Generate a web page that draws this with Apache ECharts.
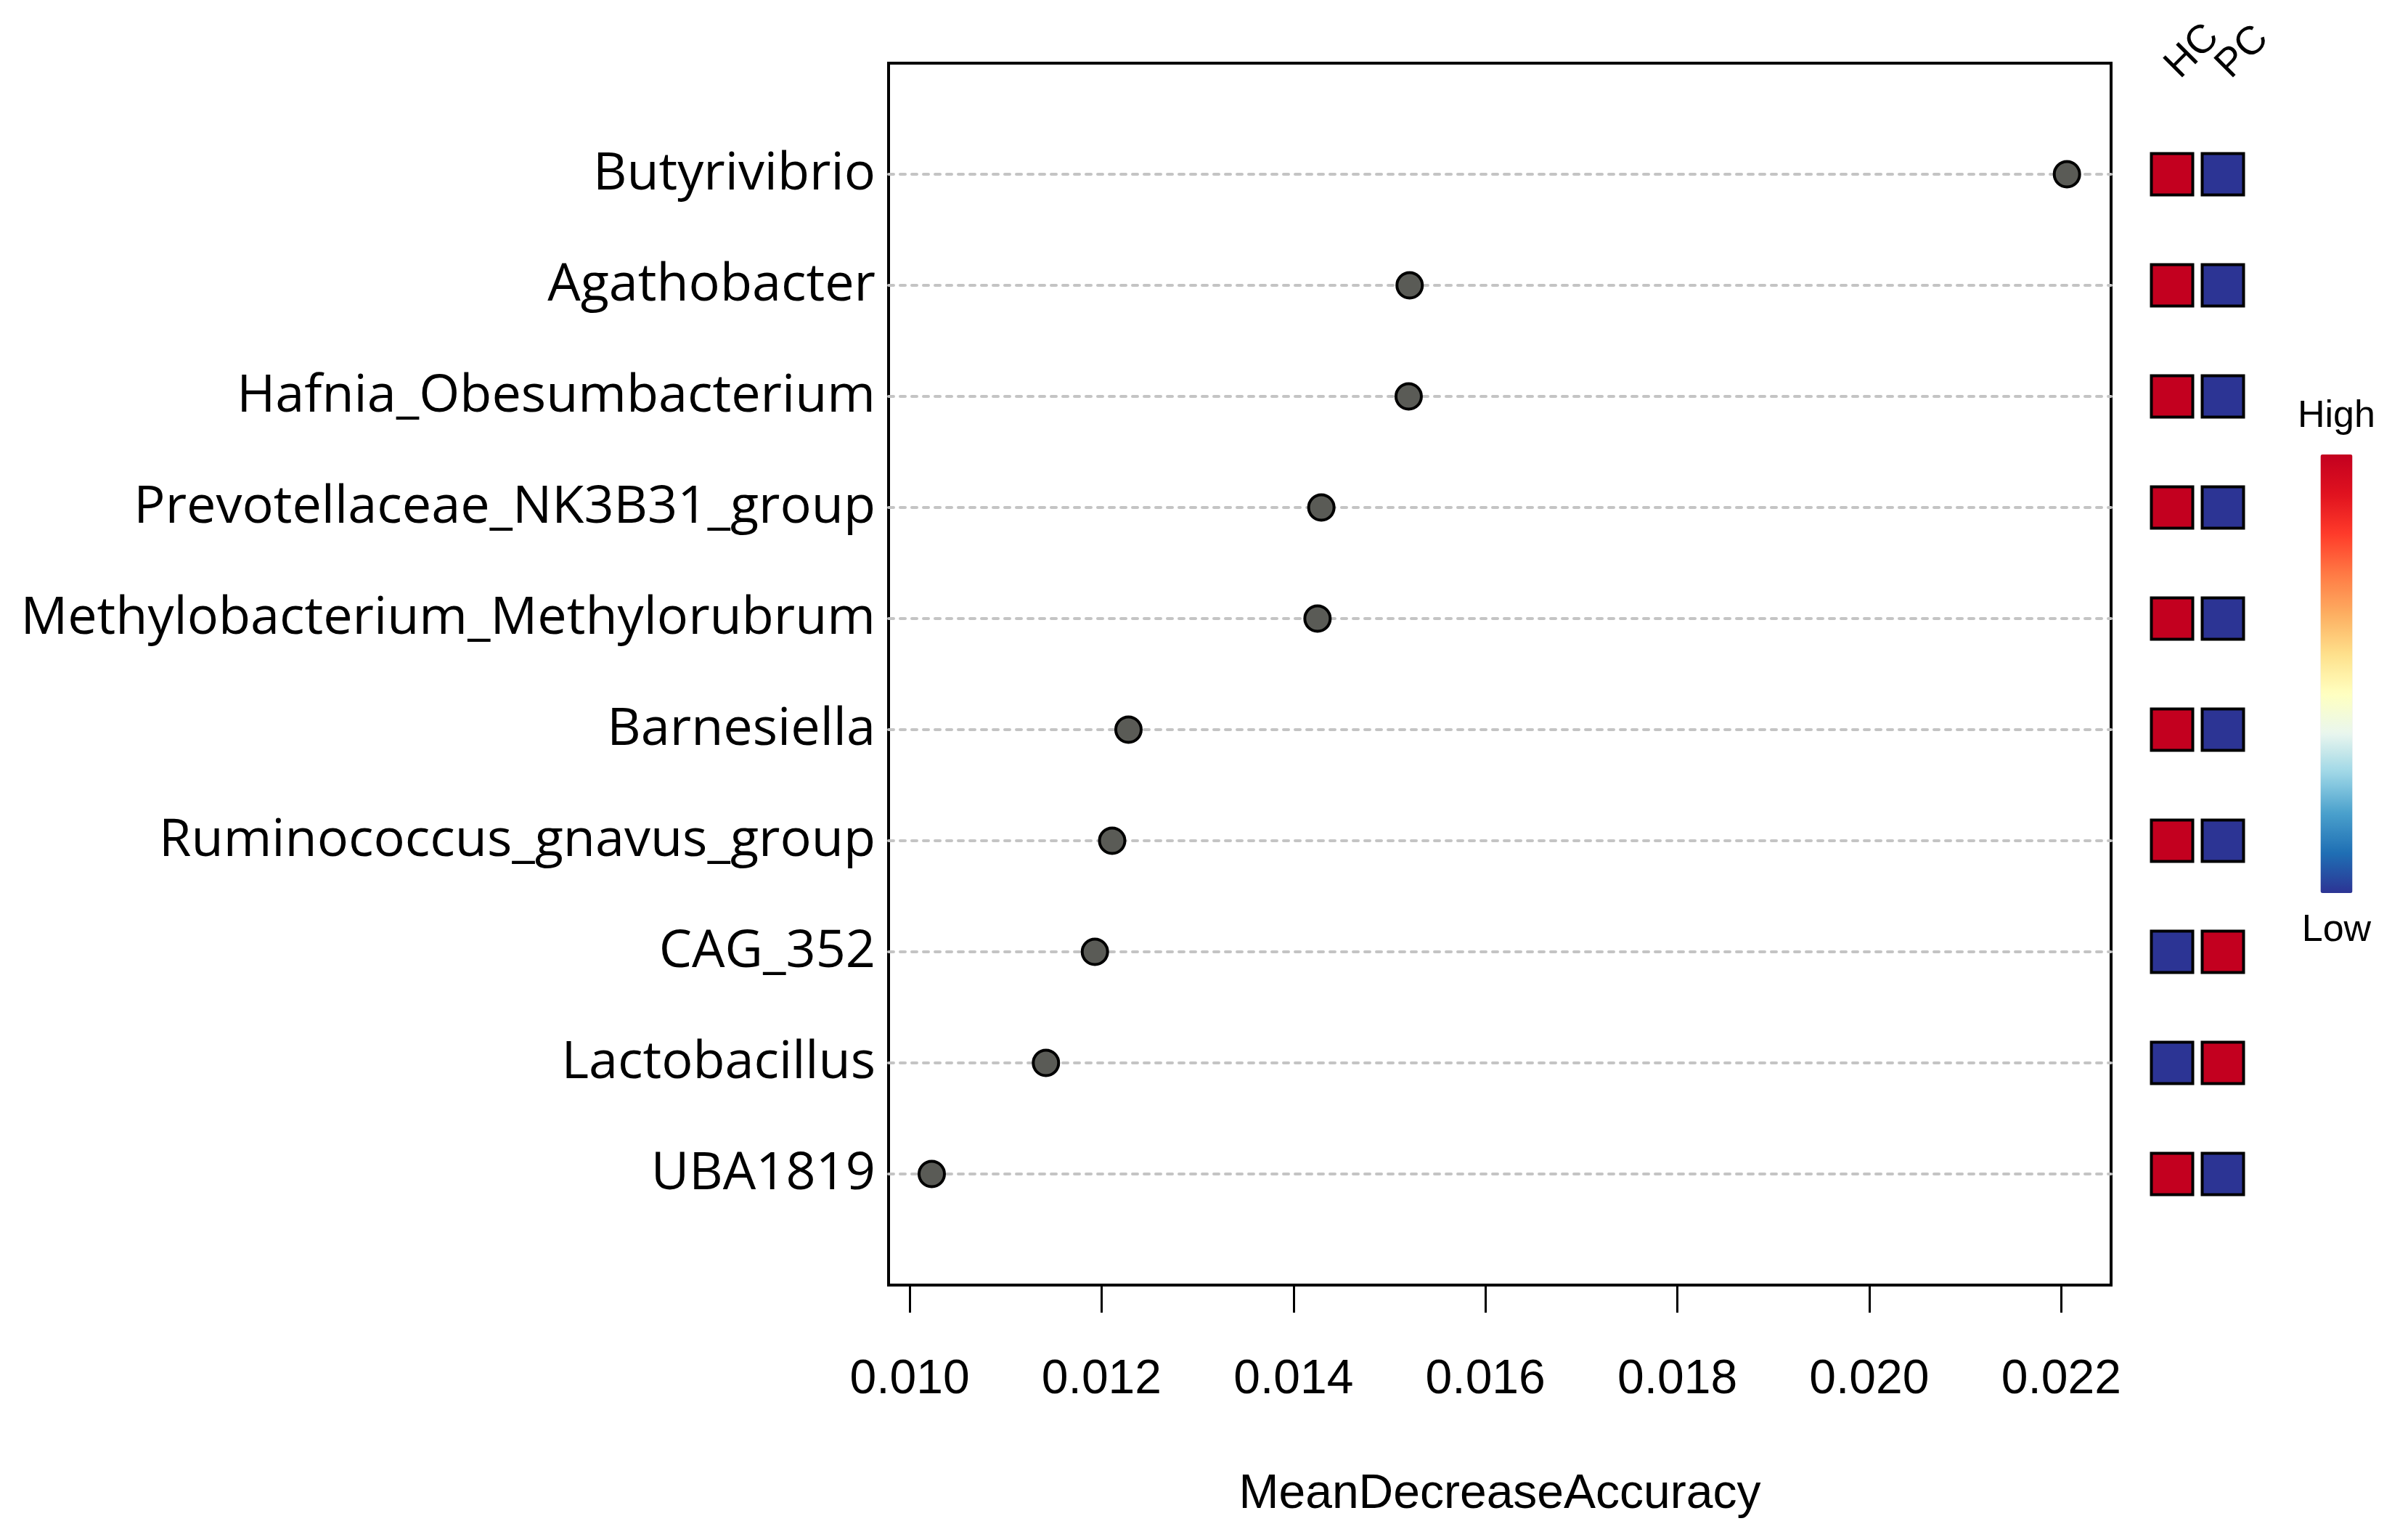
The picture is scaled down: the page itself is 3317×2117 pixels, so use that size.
<!DOCTYPE html>
<html>
<head>
<meta charset="utf-8">
<script src="https://cdn.jsdelivr.net/npm/echarts@6/dist/echarts.min.js"></script>
<style>html,body{margin:0;padding:0;background:#fff}#c{width:3317px;height:2117px}</style>
</head>
<body>
<div id="c"></div>
<script>
// Data
const taxa = ['Butyrivibrio','Agathobacter','Hafnia_Obesumbacterium','Prevotellaceae_NK3B31_group','Methylobacterium_Methylorubrum','Barnesiella','Ruminococcus_gnavus_group','CAG_352','Lactobacillus','UBA1819'];
const meanDecreaseAccuracy = [0.02206, 0.01521, 0.01520, 0.01429, 0.01425, 0.01228, 0.01211, 0.01193, 0.01142, 0.01023];
const groups = ['HC','PC'];
// 1 = High, 0 = Low
const hcLevel = [1,1,1,1,1,1,1,0,0,1];
const pcLevel = [0,0,0,0,0,0,0,1,1,0];
const xTicks = [0.010,0.012,0.014,0.016,0.018,0.020,0.022];
const legendText = ['High','Low'];

const dotData = meanDecreaseAccuracy.map((v,i)=>[v, i+1]);
const heatData = [];
taxa.forEach((t,i)=>{ heatData.push([0, i+1, hcLevel[i]]); heatData.push([1, i+1, pcLevel[i]]); });

const chart = echarts.init(document.getElementById('c'));
const sansLbl = '"Open Sans", "Noto Sans", sans-serif';
const arial = '"Liberation Sans", Arial, sans-serif';
chart.setOption({
  animation: false,
  backgroundColor: '#fff',
  grid: [
    {left: 1224, top: 87, width: 1684, height: 1683, show: true, borderColor: '#000', borderWidth: 4, backgroundColor: 'transparent'},
    {left: 2957, top: 87, width: 140, height: 1683, show: false}
  ],
  xAxis: [
    {type: 'value', gridIndex: 0, min: 0.00978, max: 0.02252,
     axisLine: {show: false, onZero: false},
     axisTick: {show: true, customValues: xTicks, length: 38, lineStyle: {color: '#000', width: 3}},
     axisLabel: {customValues: xTicks, formatter: v => v.toFixed(3), fontFamily: arial, fontSize: 66, color: '#000', margin: 98},
     splitLine: {show: false},
     name: 'MeanDecreaseAccuracy', nameLocation: 'middle', nameGap: 256,
     nameTextStyle: {fontFamily: arial, fontSize: 66, color: '#000'}},
    {type: 'category', gridIndex: 1, data: groups, position: 'top',
     axisLine: {show: false, onZero: false}, axisTick: {show: false},
     axisLabel: {rotate: -45, interval: 0, fontFamily: arial, fontSize: 55, color: '#000', margin: -12}}
  ],
  yAxis: [
    {type: 'value', gridIndex: 0, min: 0, max: 11, interval: 1, inverse: true,
     axisLine: {show: false}, axisTick: {show: false}, splitLine: {show: false},
     axisLabel: {formatter: v => taxa[v-1] || '', fontFamily: sansLbl, fontSize: 72, color: '#000', margin: 18,
                 verticalAlign: 'middle', padding: [0, 0, 12, 0]}},
    {type: 'value', gridIndex: 1, min: 0, max: 11, inverse: true, show: false}
  ],
  visualMap: {
    type: 'continuous', seriesIndex: 1, dimension: 2, min: 0, max: 1,
    calculable: false, orient: 'vertical', left: 3165, top: 548, padding: 0,
    itemWidth: 44, itemHeight: 604, text: legendText, textGap: 26,
    textStyle: {fontFamily: arial, fontSize: 52, color: '#000'},
    inRange: {color: ['#2c3494','#1f6fb4','#4aa0cc','#9dd6e6','#e9f6ee','#ffffc0','#fee08b','#fdae61','#ff7a45','#ff3b2a','#e0121f','#c3001f']}
  },
  series: [
    {type: 'scatter', xAxisIndex: 0, yAxisIndex: 0, data: dotData, symbol: 'circle', symbolSize: 35,
     itemStyle: {color: '#5a5b56', borderColor: '#000', borderWidth: 4, opacity: 1}, z: 5,
     markLine: {silent: true, symbol: 'none', label: {show: false},
       lineStyle: {color: '#c4c4c4', width: 4, type: [7, 9], cap: 'round'},
       data: taxa.map((t,i)=>({yAxis: i+1}))}},
    {type: 'scatter', xAxisIndex: 1, yAxisIndex: 1, data: heatData, symbol: 'rect', symbolSize: 57,
     itemStyle: {borderColor: '#000', borderWidth: 4, opacity: 1}}
  ]
});
</script>
</body>
</html>
